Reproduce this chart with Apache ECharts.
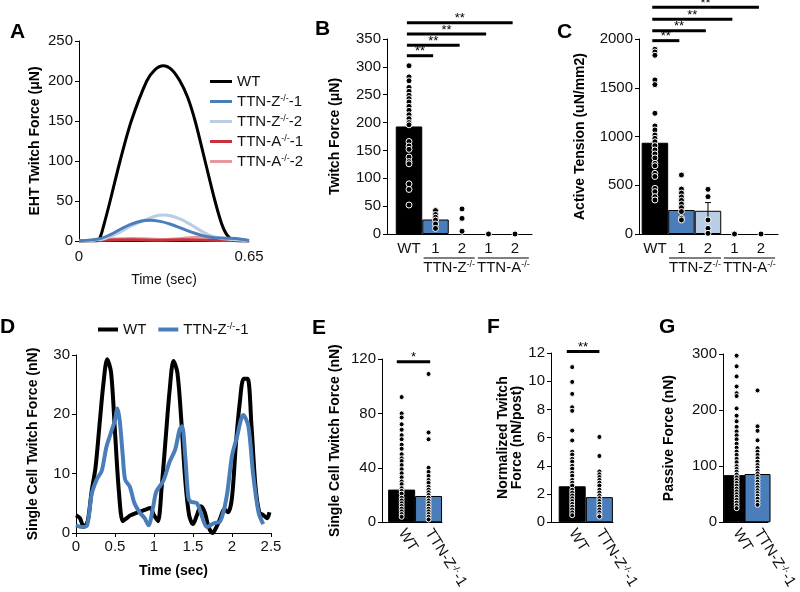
<!DOCTYPE html>
<html><head><meta charset="utf-8">
<script src="https://cdn.jsdelivr.net/npm/echarts@6/dist/echarts.min.js"></script>
<style>html,body{margin:0;padding:0;background:#fff}#c{width:800px;height:592px}</style>
</head><body><div id="c"></div>
<script>
const FF = 'Liberation Sans, Arial, Helvetica, sans-serif';
const BLUE = '#4a7ebb', LBLUE = '#b9cde5', RED = '#c8303c', PINK = '#e8989a';

// ---- Panel A: EHT twitch traces ----
const aWT_t = [0, 0.04, 0.065, 0.08, 0.095, 0.119, 0.157, 0.2, 0.259, 0.29, 0.3225, 0.355, 0.386, 0.415, 0.444, 0.482, 0.52, 0.545, 0.565, 0.59, 0.62, 0.65];
const aWT_v = [0, 0, 0, 4, 20, 50, 100, 150, 200, 214, 219, 214, 200, 180, 150, 100, 50, 22, 8, 1, 0, 0];
const aZ1_t = [0, 0.08, 0.12, 0.16, 0.2, 0.24, 0.27, 0.31, 0.35, 0.39, 0.43, 0.47, 0.51, 0.56, 0.6, 0.65];
const aZ1_v = [0, 3, 8, 15, 21, 25, 26, 24.5, 21, 16, 11, 7, 4.5, 3.5, 3, 0.5];
const aZ2_t = [0, 0.06, 0.1, 0.15, 0.2, 0.25, 0.29, 0.32, 0.35, 0.39, 0.43, 0.47, 0.5, 0.54, 0.58, 0.62, 0.65];
const aZ2_v = [0, 1, 3, 10, 19, 26, 31, 32.5, 31.5, 27, 20, 12, 7, 3.5, 2, 1, 0.5];
const aA1_t = [0, 0.1, 0.2, 0.3, 0.4, 0.5, 0.6, 0.65];
const aA1_v = [0, 1, 1.5, 1, 1.5, 1, 0.5, 0];
const aA2_t = [0, 0.1, 0.2, 0.27, 0.33, 0.4, 0.47, 0.53, 0.6, 0.65];
const aA2_v = [0, 2, 3, 2.5, 2, 3.5, 5, 3.5, 1.5, 0.5];

// ---- Panel B: twitch force ----
const bCats = ['WT', '1', '2', '1', '2'];
const bBars = [193, 26];
const bErrLo = [180, 22];
const bErrHi = [206, 30];
const bDotsWT = [302, 282, 275, 263, 256, 249, 243, 237, 229, 222, 214, 207, 200, 196, 166, 158, 152, 138, 130, 126, 90, 80, 52];
const bDotsZ1 = [42, 35, 30, 25, 18, 10];
const bDotsZ2 = [45, 28, 5];
const bDotsA1 = [0];
const bDotsA2 = [0];
const bSigEnd = [1, 2, 3, 4];
const bSigY = [320, 339, 359, 379];

// ---- Panel C: active tension ----
const cCats = ['WT', '1', '2', '1', '2'];
const cBars = [936, 246, 238];
const cErrLo = [850, 206, 150];
const cErrHi = [1020, 286, 322];
const cDotsWT = [1894, 1867, 1833, 1580, 1532, 1238, 1108, 1067, 1015, 981, 946, 906, 862, 821, 780, 725, 700, 622, 590, 468, 434, 383, 349];
const cDotsZ1 = [605, 461, 420, 380, 345, 308, 270, 230, 161, 144];
const cDotsZ2 = [458, 383, 144, 58, 7];
const cDotsA1 = [0];
const cDotsA2 = [0];
const cSigEnd = [1, 2, 3, 4];
const cSigY = [1983, 2085, 2202, 2325];

// ---- Panel D: single cell traces ----
const dWT_t = [0, 0.05, 0.1, 0.15, 0.2, 0.25, 0.3, 0.35, 0.4, 0.45, 0.5, 0.55, 0.6, 0.65, 0.7, 0.8, 0.9, 0.95, 1.0, 1.05, 1.1, 1.15, 1.2, 1.25, 1.3, 1.35, 1.4, 1.45, 1.5, 1.55, 1.6, 1.65, 1.7, 1.75, 1.8, 1.85, 1.9, 1.95, 2.0, 2.05, 2.1, 2.15, 2.2, 2.25, 2.3, 2.35, 2.4, 2.45, 2.48];
const dWT_v = [3, 2.5, 1, 2, 7, 11, 18, 25, 29.3, 27, 17, 7, 2, 2.5, 3, 3.5, 4, 4.2, 3, 2, 8, 16, 24, 29, 27, 19, 9, 3, 1.5, 3, 4.5, 3.5, 1, 0, 1, 2.5, 4, 3.5, 6, 15, 22, 26, 26, 18, 8, 3.5, 3, 2.5, 3.5];
const dZ_t = [0, 0.07, 0.14, 0.2, 0.265, 0.33, 0.39, 0.45, 0.5, 0.53, 0.56, 0.6, 0.63, 0.69, 0.75, 0.82, 0.88, 0.93, 0.99, 1.03, 1.12, 1.2, 1.27, 1.33, 1.36, 1.4, 1.44, 1.47, 1.55, 1.61, 1.68, 1.76, 1.85, 1.93, 2.0, 2.06, 2.145, 2.21, 2.27, 2.34, 2.4];
const dZ_v = [1.3, 1.0, 1.2, 6.5, 9, 10.5, 14.5, 17, 19, 21, 19, 13, 9, 7.8, 5, 3.4, 2.5, 1.3, 4.5, 7, 8.8, 12, 14, 17.5, 18, 13, 6, 5.3, 5, 3, 1, 1.6, 2, 6, 13, 16, 19.9, 18, 10, 3.5, 1.5];

// ---- Panels E/F/G ----
const efgCats = ['WT', 'TTN-Z-/--1'];
const eBars = [24, 19.3];
const eDotsWT = [92, 80, 77, 72, 68, 64, 61, 57, 54, 50, 47, 45, 42, 39, 36, 33, 30, 28, 25, 23, 21, 18, 16, 14, 12, 10, 8, 6, 4];
const eDotsZ = [109, 66, 61, 40, 37, 34, 31, 29, 26, 24, 22, 20, 18, 16, 14, 12, 10, 8, 6, 4, 2];
const eSigY = 118;
const fBars = [2.55, 1.78];
const fDotsWT = [11.0, 9.95, 9.1, 8.15, 7.9, 6.5, 5.8, 5.0, 4.8, 4.5, 4.3, 4.0, 3.8, 3.5, 3.3, 3.0, 2.8, 2.6, 2.3, 2.1, 1.9, 1.7, 1.5, 1.3, 1.1, 0.9, 0.7, 0.5];
const fDotsZ = [6.05, 4.7, 3.6, 3.4, 3.2, 3.0, 2.8, 2.6, 2.3, 2.1, 1.9, 1.7, 1.5, 1.3, 1.1, 0.9, 0.7, 0.5, 0.4];
const fSigY = 12.1;
const gBars = [84, 86];
const gDotsWT = [297, 278, 260, 242, 230, 225, 203, 190, 180, 170, 162, 155, 148, 140, 133, 126, 120, 113, 107, 100, 95, 90, 85, 80, 75, 70, 65, 60, 55, 50, 45, 40, 35, 30, 25];
const gDotsZ = [235, 171, 163, 146, 132, 126, 120, 114, 108, 102, 97, 92, 87, 82, 77, 72, 67, 62, 57, 52, 47, 42, 36, 31];

// ---------- helpers ----------
const zip = (t, v) => t.map((x, i) => [x, v[i]]);
const TICK = 15, TITLE = 14;
const SUP = {s: {fontSize: 9, verticalAlign: 'top', fontFamily: FF, color: '#111'}};
function richLabel(t) {
  if (t === 'TTN-Z-/--1') return 'TTN-Z{s|-/-}-1';
  return t;
}
function yAx(gi, min, max, interval, name, gap, extra) {
  return Object.assign({
    gridIndex: gi, type: 'value', min, max, interval, name,
    nameLocation: 'middle', nameGap: gap, nameRotate: 90,
    nameTextStyle: {fontWeight: 'bold', fontSize: TITLE, color: '#000', fontFamily: FF},
    axisLine: {show: true, onZero: false, lineStyle: {color: '#000', width: 1}},
    axisTick: {show: true, length: 4, lineStyle: {color: '#000'}},
    axisLabel: {fontSize: TICK, color: '#111', margin: 6, fontFamily: FF, formatter: v => String(v)},
    splitLine: {show: false}
  }, extra || {});
}
function catXAx(gi, min, max, cats, rotate) {
  return {
    gridIndex: gi, type: 'value', min, max,
    axisLine: {show: true, onZero: false, lineStyle: {color: '#000', width: 1}},
    axisTick: {show: false},
    splitLine: {show: false},
    axisLabel: {
      customValues: cats.map((c, i) => i),
      formatter: v => richLabel(cats[Math.round(v)]),
      fontSize: TICK, color: '#111', fontFamily: FF, margin: rotate ? 8 : 7,
      rotate: rotate || 0, rich: SUP
    }
  };
}
function barSeries(gi, vals, colors, w) {
  return {
    type: 'bar', xAxisIndex: gi, yAxisIndex: gi, barWidth: w, z: 2,
    data: vals.map((v, i) => ({value: [i, v], itemStyle: {color: colors[i]}})),
    itemStyle: {borderColor: '#000', borderWidth: 1}
  };
}
function dotSeries(gi, groups, size) {
  const data = [];
  groups.forEach((g, i) => g.forEach(v => data.push([i, v])));
  return {
    type: 'scatter', xAxisIndex: gi, yAxisIndex: gi, symbolSize: size, z: 5,
    data, itemStyle: {color: '#000', borderColor: '#fff', borderWidth: 1, opacity: 1}
  };
}
function errSeries(gi, lo, hi) {
  return {
    type: 'custom', xAxisIndex: gi, yAxisIndex: gi, z: 4, clip: false,
    data: lo.map((l, i) => [i, l, hi[i]]),
    renderItem: (p, api) => {
      const a = api.coord([api.value(0), api.value(1)]);
      const b = api.coord([api.value(0), api.value(2)]);
      return {type: 'group', children: [
        {type: 'line', shape: {x1: a[0], y1: a[1], x2: b[0], y2: b[1]}, style: {stroke: '#000', lineWidth: 1}},
        {type: 'line', shape: {x1: a[0] - 3, y1: a[1], x2: a[0] + 3, y2: a[1]}, style: {stroke: '#000', lineWidth: 1}},
        {type: 'line', shape: {x1: b[0] - 3, y1: b[1], x2: b[0] + 3, y2: b[1]}, style: {stroke: '#000', lineWidth: 1}}
      ]};
    }
  };
}
function sigSeries(gi, x0, ends, ys, label) {
  return {
    type: 'custom', xAxisIndex: gi, yAxisIndex: gi, z: 6, clip: false,
    data: ends.map((e, i) => [e, ys[i]]),
    renderItem: (p, api) => {
      const e = api.value(0), y = api.value(1);
      const a = api.coord([x0, y]), b = api.coord([e, y]);
      return {type: 'group', children: [
        {type: 'line', shape: {x1: a[0], y1: a[1], x2: b[0], y2: b[1]}, style: {stroke: '#000', lineWidth: 3}},
        {type: 'text', x: (a[0] + b[0]) / 2, y: a[1] - 4,
         style: {text: label, fontSize: 13, fontFamily: FF, fill: '#000', align: 'center', verticalAlign: 'middle'}}
      ]};
    }
  };
}
function groupSeries(gi, spans, names) {
  return {
    type: 'custom', xAxisIndex: gi, yAxisIndex: gi, z: 6, clip: false,
    data: spans.map(s => [s[0], s[1]]),
    renderItem: (p, api) => {
      const a = api.coord([api.value(0), 0]), b = api.coord([api.value(1), 0]);
      return {type: 'group', children: [
        {type: 'line', shape: {x1: a[0], y1: a[1] + 24, x2: b[0], y2: a[1] + 24}, style: {stroke: '#000', lineWidth: 1}},
        {type: 'text', x: (a[0] + b[0]) / 2, y: a[1] + 34,
         style: {text: names[p.dataIndex], fontSize: TICK, fontFamily: FF, fill: '#111', align: 'center', verticalAlign: 'middle', rich: SUP}}
      ]};
    }
  };
}
function lineSeries(gi, name, data, color, w) {
  return {type: 'line', name, xAxisIndex: gi, yAxisIndex: gi, data, smooth: 0.3, showSymbol: false, symbol: 'none',
    lineStyle: {color, width: w}, itemStyle: {color}, z: 3};
}
const letters = [['A', 10, 22], ['B', 315, 19], ['C', 557, 22], ['D', 0, 317], ['E', 312, 318], ['F', 487, 317], ['G', 659, 317]];

const chart = echarts.init(document.getElementById('c'), null, {renderer: 'canvas'});
const option = {
  animation: false,
  backgroundColor: '#fff',
  textStyle: {fontFamily: FF},
  title: letters.map(l => ({text: l[0], left: l[1], top: l[2], padding: 0,
    textStyle: {fontSize: 21, fontWeight: 'bold', color: '#000', fontFamily: FF}})),
  legend: [
    {data: ['WT', 'Z1', 'Z2', 'A1', 'A2'], left: 210, top: 74, orient: 'vertical', icon: 'rect',
     itemWidth: 22, itemHeight: 3, itemGap: 5, itemTextGap: 2, padding: 0,
     formatter: n => ({WT: 'WT', Z1: 'TTN-Z{s|-/-}-1', Z2: 'TTN-Z{s|-/-}-2', A1: 'TTN-A{s|-/-}-1', A2: 'TTN-A{s|-/-}-2'})[n],
     textStyle: {fontSize: TICK, color: '#111', fontFamily: FF, lineHeight: 15, rich: SUP}},
    {data: ['dWT', 'dZ'], left: 98, top: 322, orient: 'horizontal', icon: 'rect',
     itemWidth: 20, itemHeight: 4, itemGap: 12, itemTextGap: 2, padding: 0,
     formatter: n => n === 'dWT' ? 'WT' : 'TTN-Z{s|-/-}-1',
     textStyle: {fontSize: TICK, color: '#111', fontFamily: FF, lineHeight: 15, rich: SUP}}
  ],
  grid: [
    {left: 79, top: 41, width: 170, height: 200},
    {left: 387, top: 39, width: 145, height: 195},
    {left: 639, top: 39, width: 139, height: 195},
    {left: 76, top: 355, width: 195, height: 178},
    {left: 382, top: 359, width: 60, height: 169},
    {left: 551, top: 353, width: 62, height: 172},
    {left: 723, top: 354, width: 56, height: 169}
  ],
  xAxis: [
    {gridIndex: 0, type: 'value', min: 0, max: 0.65, name: 'Time (sec)', nameLocation: 'middle', nameGap: 32,
     nameTextStyle: {fontSize: TITLE, color: '#111', fontFamily: FF},
     axisLine: {show: true, onZero: false, lineStyle: {color: '#000'}}, axisTick: {show: false}, splitLine: {show: false},
     axisLabel: {customValues: [0, 0.65], formatter: v => (v === 0 ? '0' : '0.65'), fontSize: TICK, color: '#111', margin: 8, fontFamily: FF}},
    catXAx(1, -0.83, 4.64, bCats),
    catXAx(2, -0.6, 4.64, cCats),
    {gridIndex: 3, type: 'value', min: 0, max: 2.5, interval: 0.5, name: 'Time (sec)', nameLocation: 'middle', nameGap: 31,
     nameTextStyle: {fontSize: TITLE, fontWeight: 'bold', color: '#000', fontFamily: FF},
     axisLine: {show: true, onZero: false, lineStyle: {color: '#000'}}, axisTick: {show: true, length: 4, inside: false, lineStyle: {color: '#000'}},
     splitLine: {show: false}, axisLabel: {fontSize: TICK, color: '#111', margin: 6, fontFamily: FF}},
    catXAx(4, -0.73, 1.5, efgCats, -58),
    catXAx(5, -0.78, 1.5, efgCats, -58),
    catXAx(6, -0.65, 1.5, efgCats, -58)
  ],
  yAxis: [
    yAx(0, 0, 250, 50, 'EHT Twitch Force (μN)', 37),
    yAx(1, 0, 350, 50, 'Twitch Force (μN)', 45),
    yAx(2, 0, 2000, 500, 'Active Tension (uN/mm2)', 52),
    yAx(3, 0, 30, 10, 'Single Cell Twitch Force (nN)', 36),
    yAx(4, 0, 120, 40, 'Single Cell Twitch Force (nN)', 40),
    yAx(5, 0, 12, 2, 'Normalized Twitch\nForce (nN/post)', 21, {nameTextStyle: {fontWeight: 'bold', fontSize: TITLE, color: '#000', fontFamily: FF, lineHeight: 14}}),
    yAx(6, 0, 300, 100, 'Passive Force (nN)', 47)
  ],
  series: [
    lineSeries(0, 'A2', zip(aA2_t, aA2_v), PINK, 3),
    lineSeries(0, 'A1', zip(aA1_t, aA1_v), RED, 3),
    lineSeries(0, 'WT', zip(aWT_t, aWT_v), '#000', 3),
    lineSeries(0, 'Z2', zip(aZ2_t, aZ2_v), LBLUE, 3),
    lineSeries(0, 'Z1', zip(aZ1_t, aZ1_v), BLUE, 3),

    barSeries(1, bBars, ['#000', BLUE], 26.5),
    errSeries(1, bErrLo, bErrHi),
    dotSeries(1, [bDotsWT, bDotsZ1, bDotsZ2, bDotsA1, bDotsA2], 6),
    sigSeries(1, -0.08, bSigEnd.map(e => e - 0.09), bSigY, '**'),
    groupSeries(1, [[0.55, 2.48], [2.6, 4.52]], ['TTN-Z{s|-/-}', 'TTN-A{s|-/-}']),

    barSeries(2, cBars, ['#000', BLUE, LBLUE], 26.5),
    errSeries(2, cErrLo, cErrHi),
    dotSeries(2, [cDotsWT, cDotsZ1, cDotsZ2, cDotsA1, cDotsA2], 6),
    sigSeries(2, -0.1, cSigEnd.map(e => e - 0.08), cSigY, '**'),
    groupSeries(2, [[0.53, 2.49], [2.6, 4.53]], ['TTN-Z{s|-/-}', 'TTN-A{s|-/-}']),

    lineSeries(3, 'dWT', zip(dWT_t, dWT_v), '#000', 4),
    lineSeries(3, 'dZ', zip(dZ_t, dZ_v), BLUE, 4),

    barSeries(4, eBars, ['#000', BLUE], 27),
    dotSeries(4, [eDotsWT, eDotsZ], 5),
    sigSeries(4, -0.18, [1.06], [eSigY], '*'),

    barSeries(5, fBars, ['#000', BLUE], 27),
    dotSeries(5, [fDotsWT, fDotsZ], 5),
    sigSeries(5, -0.2, [1.0], [fSigY], '**'),

    barSeries(6, gBars, ['#000', BLUE], 26),
    dotSeries(6, [gDotsWT, gDotsZ], 5)
  ]
};
chart.setOption(option);
</script></body></html>
